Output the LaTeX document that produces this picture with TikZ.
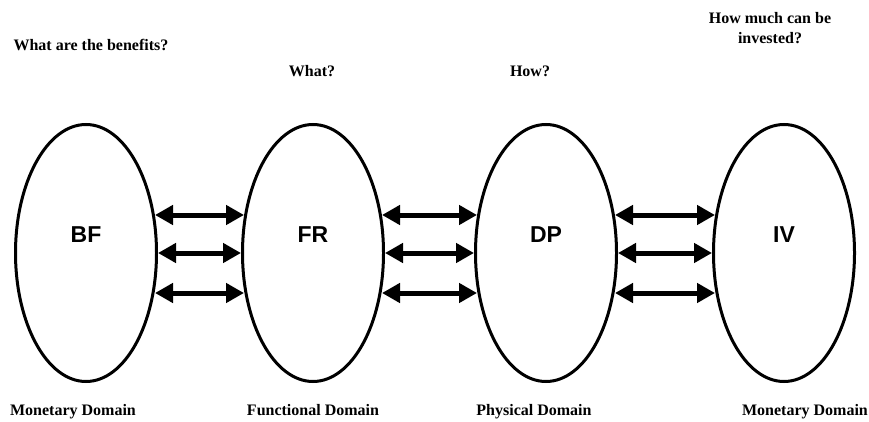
\documentclass[tikz,border=0pt]{standalone}
\usepackage{fontspec}
\setmainfont{Liberation Serif}
\newfontfamily\domsans{Liberation Sans}
\usetikzlibrary{shapes.geometric,arrows.meta}

\begin{document}
\begin{tikzpicture}[x=1pt,y=-1pt,
  domainbox/.style={ellipse,draw,line width=3pt,minimum width=141pt,minimum height=257pt,
                 inner sep=0pt},
  domainname/.style={anchor=base,inner sep=0pt,font=\domsans\bfseries\fontsize{23}{25}\selectfont},
  question/.style={anchor=base,inner sep=0pt,font=\bfseries\fontsize{16}{20}\selectfont,align=center},
  domlabel/.style={anchor=base,inner sep=0pt,font=\bfseries\fontsize{16}{20}\selectfont},
  link/.style={line width=5pt,{Triangle[length=18pt,width=19pt]}-{Triangle[length=18pt,width=19pt]}}]
  \useasboundingbox (0,0) rectangle (869,422);

  % the four domains
  \node[domainbox] (bf) at (86,253) {};
  \node[domainbox] (fr) at (313,253) {};
  \node[domainbox] (dp) at (546,253) {};
  \node[domainbox] (iv) at (784,253) {};
  \node[domainname] (bft) at (86,242) {BF};
  \node[domainname] (frt) at (313,242) {FR};
  \node[domainname] (dpt) at (546,242) {DP};
  \node[domainname] (ivt) at (784,242) {IV};

  % questions above the domains
  \node[question] (q1) at (91,51) {What are the benefits?};
  \node[question] (q2) at (312,77) {What?};
  \node[question] (q3) at (530,77) {How?};
  \node[question,anchor=north] (q4) at (770,12) {How much can be\\invested?};

  % domain names below
  \node[domlabel] (l1) at (73,415) {Monetary Domain};
  \node[domlabel] (l2) at (313,415) {Functional Domain};
  \node[domlabel] (l3) at (534,415) {Physical Domain};
  \node[domlabel] (l4) at (805,415) {Monetary Domain};

  % three mappings between each pair of neighbouring domains
  \foreach \a/\b in {bf/fr,fr/dp,dp/iv}{
    \draw[link] ([shift={(-3,-38)}]\a.east) -- ([shift={(3,-38)}]\b.west);
    \draw[link] (\a.east) -- (\b.west);
    \draw[link] ([shift={(-3,40)}]\a.east) -- ([shift={(3,40)}]\b.west);
  }
\end{tikzpicture}
\end{document}
